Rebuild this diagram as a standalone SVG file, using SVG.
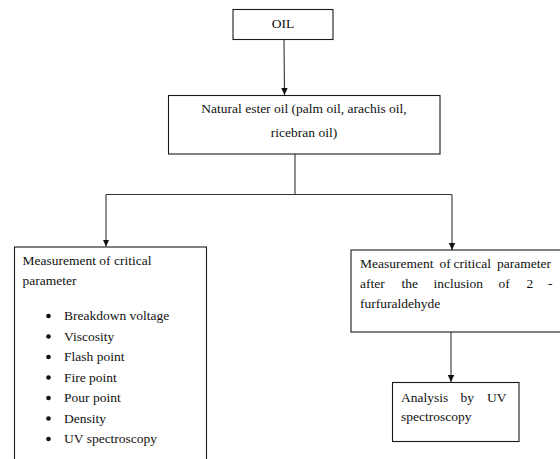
<svg xmlns="http://www.w3.org/2000/svg" width="560" height="459" viewBox="0 0 560 459">
<defs>
<style>
.box{fill:#fff;stroke:#1a1a1a;stroke-width:1.1}
text{font-family:'Liberation Serif',serif;font-size:13.5px;fill:#111}
.c{text-anchor:middle}
.ln{fill:none;stroke:#333;stroke-width:1.1}
.bul{fill:#111}
</style>
<marker id="ah" markerWidth="8" markerHeight="8" refX="7" refY="4" orient="auto" markerUnits="userSpaceOnUse">
<path d="M0,0.8 L7,4 L0,7.2 Z" fill="#111"/>
</marker>
</defs>
<rect width="560" height="459" fill="#fff"/>
<g id="connectors">
<line class="ln" x1="284" y1="39.5" x2="284.5" y2="95" marker-end="url(#ah)"/>
<line class="ln" x1="295" y1="154" x2="295" y2="194.5"/>
<line class="ln" x1="106" y1="194.5" x2="452" y2="194.5"/>
<line class="ln" x1="106" y1="194.5" x2="106" y2="246.5" marker-end="url(#ah)"/>
<line class="ln" x1="452" y1="194.5" x2="452" y2="250" marker-end="url(#ah)"/>
<line class="ln" x1="451" y1="332" x2="451" y2="382" marker-end="url(#ah)"/>
</g>
<g id="oil">
<rect class="box" x="233" y="9.5" width="100" height="30"/>
<text class="c" x="283" y="28" font-family="Liberation Serif">OIL</text>
</g>
<g id="natural">
<rect class="box" x="168.5" y="95.5" width="271.5" height="58.5"/>
<text class="c" x="304" y="113" font-family="Liberation Serif">Natural ester oil (palm oil, arachis  oil,</text>
<text class="c" x="304" y="137" font-family="Liberation Serif">ricebran oil)</text>
</g>
<g id="measure" font-family="Liberation Serif">
<rect class="box" x="14.5" y="247" width="192" height="230"/>
<text x="22.5" y="265">Measurement of critical</text>
<text x="22.5" y="285">parameter</text>
<circle class="bul" cx="48.5" cy="316" r="2.3"/>
<circle class="bul" cx="48.5" cy="336.5" r="2.3"/>
<circle class="bul" cx="48.5" cy="357" r="2.3"/>
<circle class="bul" cx="48.5" cy="377.5" r="2.3"/>
<circle class="bul" cx="48.5" cy="398" r="2.3"/>
<circle class="bul" cx="48.5" cy="418.5" r="2.3"/>
<circle class="bul" cx="48.5" cy="439" r="2.3"/>
<text x="64" y="320">Breakdown voltage</text>
<text x="64" y="340.5">Viscosity</text>
<text x="64" y="361">Flash point</text>
<text x="64" y="381.5">Fire point</text>
<text x="64" y="402">Pour point</text>
<text x="64" y="422.5">Density</text>
<text x="64" y="443">UV spectroscopy</text>
</g>
<g id="measure2">
<rect class="box" x="351" y="250" width="212" height="82"/>
<text y="268"><tspan x="360">Measurement</tspan><tspan x="439.5">of</tspan><tspan x="453.5">critical</tspan><tspan x="497">parameter</tspan></text>
<text y="288"><tspan x="360">after</tspan><tspan x="401.5">the</tspan><tspan x="433.5">inclusion</tspan><tspan x="498.5">of</tspan><tspan x="526.5">2</tspan><tspan x="548">-</tspan></text>
<text x="360" y="308">furfuraldehyde</text>
</g>
<g id="uv">
<rect class="box" x="392.5" y="382.5" width="126.5" height="59"/>
<text y="401.5"><tspan x="401">Analysis</tspan><tspan x="460.5">by</tspan><tspan x="487">UV</tspan></text>
<text x="401" y="420.5">spectroscopy</text>
</g>
</svg>
